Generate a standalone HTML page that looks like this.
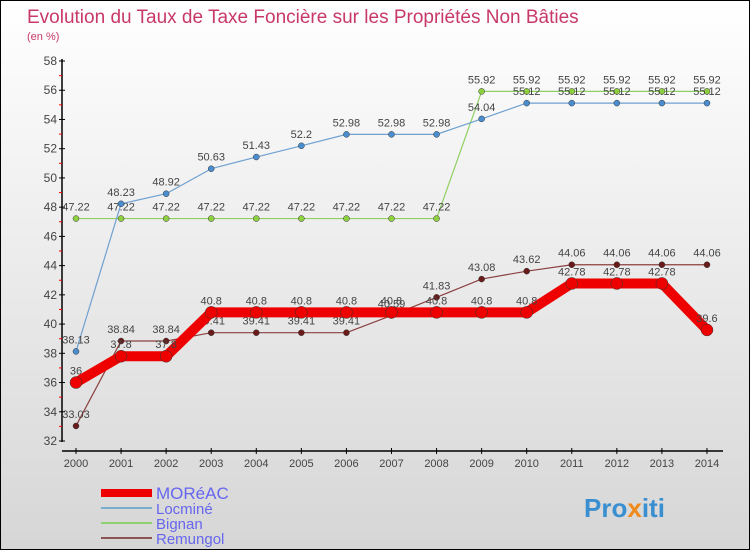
<!DOCTYPE html>
<html><head><meta charset="utf-8"><style>
body{margin:0}
#c{width:748px;height:548px;border:1px solid #000;background:linear-gradient(#ffffff,#d6d6d6);position:relative;overflow:hidden;font-family:"Liberation Sans",sans-serif}
</style></head><body>
<div id="c">
<svg id="s" width="748" height="548">
<text x="26" y="22" font-size="19" fill="#c8386a">Evolution du Taux de Taxe Foncière sur les Propriétés Non Bâties</text>
<text x="26" y="39" font-size="11" fill="#c8386a">(en %)</text>
<g id="g"></g>
<text x="583" y="516" font-size="26" font-weight="bold" fill="#3a8fd0">Pro<tspan fill="#f08a1c">x</tspan>iti</text>
</svg>
</div>
<script>
const years=[2000,2001,2002,2003,2004,2005,2006,2007,2008,2009,2010,2011,2012,2013,2014];
const yTicks=[32,34,36,38,40,42,44,46,48,50,52,54,56,58];
const moreac=[36,37.8,37.8,40.8,40.8,40.8,40.8,40.8,40.8,40.8,40.8,42.78,42.78,42.78,39.6];
const locmine=[38.13,48.23,48.92,50.63,51.43,52.2,52.98,52.98,52.98,54.04,55.12,55.12,55.12,55.12,55.12];
const bignan=[47.22,47.22,47.22,47.22,47.22,47.22,47.22,47.22,47.22,55.92,55.92,55.92,55.92,55.92,55.92];
const remungol=[33.03,38.84,38.84,39.41,39.41,39.41,39.41,40.59,41.83,43.08,43.62,44.06,44.06,44.06,44.06];
const seriesNames=["MORéAC","Locminé","Bignan","Remungol"];
const NS="http://www.w3.org/2000/svg",g=document.getElementById('g');
const X=i=>75+i*45.07, Y=v=>440-(v-32)*14.615;
function el(t,a,p){const e=document.createElementNS(NS,t);for(const k in a)e.setAttribute(k,a[k]);(p||g).appendChild(e);return e;}
function tx(x,y,s,a,fs,fill){const e=el('text',{x:x,y:y,'font-size':fs||11,fill:fill||'#444','text-anchor':a||'middle'});e.textContent=s;return e;}
let ax=el('line',{x1:61,y1:58,x2:61,y2:441,stroke:'#000','stroke-width':1.5});


let xa=el('line',{x1:61,y1:450,x2:722,y2:450,stroke:'#000','stroke-width':1.5});


yTicks.forEach(v=>{el('line',{x1:58,x2:64,y1:Y(v),y2:Y(v),stroke:'#000'});if(v<58)el('line',{x1:58,x2:61,y1:Y(v+1),y2:Y(v+1),stroke:'red'});
 const t=tx(56,Y(v)+4,v,'end',12);});
years.forEach((y,i)=>{el('line',{x1:X(i),x2:X(i),y1:447,y2:453,stroke:'#000'});const t=tx(X(i),466,y,'middle',11);});
function series(d,col,w,r,dot,name){
 const p=el('polyline',{points:d.map((v,i)=>X(i)+','+Y(v)).join(' '),fill:'none',stroke:col,'stroke-width':w,'stroke-linejoin':'round'});
 
 
 d.forEach((v,i)=>{const c=el('circle',{cx:X(i),cy:Y(v),r:r,fill:dot,stroke:'#333','stroke-width':0.5});
  
  
  const t=tx(X(i),Y(v)-8,String(v),'middle',11,'#444');
  
  });
}
series(remungol,'#8b4040',1.2,3,'#6b1a1a','remungol');
series(moreac,'#ee0000',10,6,'#ee0000','moreac');
series(bignan,'#8fd060',1.2,3,'#8fd040','bignan');
series(locmine,'#6fa0d0',1.2,3,'#4a8ed0','locmine');
const lc=['#ee0000','#7aaed0','#8fd070','#8b5555'],lw=[8,2,2,2];
seriesNames.forEach((n,i)=>{const y=492+i*15;
 const l=el('line',{x1:100,x2:151,y1:y,y2:y,stroke:lc[i],'stroke-width':lw[i]});
 
 
 const t=tx(155,y+6,n,'start',i?15:17,'#6666ee');
 
 });
</script>
</body></html>
